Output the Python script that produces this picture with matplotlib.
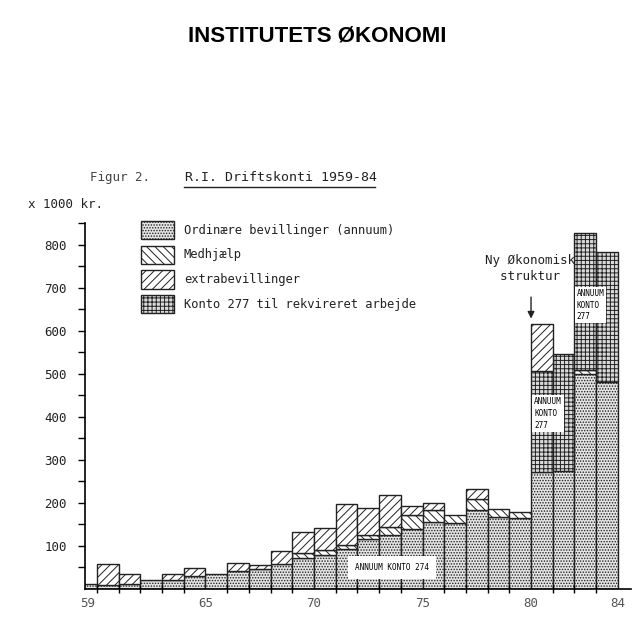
import numpy as np
import matplotlib.pyplot as plt

# R.I. Driftskonti 1959-84, values in 1000 kr.
years = np.arange(59, 84)
annuum = [10, 8, 10, 20, 20, 30, 34, 40, 45, 57, 71, 78, 92,
          115, 125, 140, 156, 152, 183, 167, 164, 272, 275, 500, 480]
medhjaelp = [0, 0, 0, 0, 0, 0, 0, 0, 0, 0, 11, 12, 10,
             10, 19, 31, 27, 19, 25, 18, 15, 0, 0, 8, 0]
konto277 = [0] * 21 + [235, 272, 320, 304]
extra = [0, 49, 24, 0, 14, 18, 0, 19, 9, 31, 51, 52, 95,
         63, 74, 21, 17, 0, 24, 0, 0, 108, 0, 0, 0]

legend_labels = ["Ordinære bevillinger (annuum)", "Medhjælp",
                 "extrabevillinger", "Konto 277 til rekvireret arbejde"]
ytick_vals = [100, 200, 300, 400, 500, 600, 700, 800]
xtick_vals = [59.55, 65, 70, 75, 80, 84]
xtick_labels = ["59", "65", "70", "75", "80", "84"]

mono = "DejaVu Sans Mono"
ink = "#222222"
plt.rcParams["hatch.linewidth"] = 0.7
plt.rcParams["hatch.color"] = ink

fig = plt.figure(figsize=(6.34, 6.17), dpi=100)
ax = fig.add_axes([85 / 634, 0.0459, 0.861, 0.592])

series = [annuum, medhjaelp, konto277, extra]
hatches = ["......", "\\\\\\\\", "++++", "////"]
faces = ["#e4e4e4", "white", "#dadada", "white"]
bottom = np.zeros(len(years))
for vals, h, fc in zip(series, hatches, faces):
    vals = np.array(vals, dtype=float)
    mask = vals > 0
    ax.bar(years[mask], vals[mask], width=1, align="edge", bottom=bottom[mask],
           facecolor=fc, edgecolor=ink, hatch=h, linewidth=1.0)
    bottom += vals

ax.set_xlim(59.45, 84.6)
ax.set_ylim(0, 850)
for s in ["top", "right"]:
    ax.spines[s].set_visible(False)
ax.spines["left"].set_linewidth(1.2)
ax.spines["bottom"].set_linewidth(1.2)

ax.set_yticks(ytick_vals)
ax.set_yticklabels([str(v) for v in ytick_vals], family=mono, fontsize=9, color=ink)
ax.set_yticks(np.arange(50, 851, 100), minor=True)
ax.tick_params(axis="y", which="both", direction="out", length=5, width=1, pad=8)

ax.set_xticks(xtick_vals)
ax.set_xticklabels(xtick_labels, family=mono, fontsize=9, color="#555555")
ax.set_xticks(np.arange(60, 85), minor=True)
ax.tick_params(axis="x", which="major", length=0, pad=6)
ax.tick_params(axis="x", which="minor", direction="inout", length=6, width=1)

# labels inside bars
box = dict(facecolor="white", edgecolor="none", pad=1.5)
ax.text(73.6, 50, "ANNUUM KONTO 274", family=mono, fontsize=5.5,
        ha="center", va="center", bbox=dict(facecolor="white", edgecolor="none", pad=5))
ax.text(80.15, 408, "ANNUUM\nKONTO\n277", family=mono, fontsize=5.5,
        ha="left", va="center", linespacing=1.4, bbox=box)
ax.text(82.1, 660, "ANNUUM\nKONTO\n277", family=mono, fontsize=5.5,
        ha="left", va="center", linespacing=1.4, bbox=box)

# new structure annotation
ax.annotate("", xy=(80.0, 622), xytext=(80.0, 685),
            arrowprops=dict(arrowstyle="-|>", color=ink, lw=1, mutation_scale=10))
fig.text(0.765, 0.565, "Ny Økonomisk\n  struktur", family=mono, fontsize=9,
         ha="left", va="center", color=ink, linespacing=1.3)

# legend patches drawn in figure coords
leg_y = [0.627, 0.587, 0.547, 0.507]
leg_hatch = ["......", "\\\\\\\\", "////", "++++"]
leg_face = ["#e4e4e4", "white", "white", "#dadada"]
for y, h, fc, lab in zip(leg_y, leg_hatch, leg_face, legend_labels):
    p = plt.Rectangle((0.222, y - 0.015), 0.053, 0.03, transform=fig.transFigure,
                      facecolor=fc, edgecolor=ink, hatch=h, linewidth=1)
    fig.patches.append(p)
    fig.text(0.29, y, lab, family=mono, fontsize=8.7, ha="left", va="center", color=ink)

fig.text(0.5, 0.942, "INSTITUTETS ØKONOMI", family="Liberation Sans",
         fontweight="bold", fontsize=16, ha="center", va="center")
fig.text(0.142, 0.712, "Figur 2.", family=mono, fontsize=9, ha="left",
         va="center", color="#444444")
fig.text(0.292, 0.712, "R.I. Driftskonti 1959-84", family=mono, fontsize=9.5,
         ha="left", va="center", color=ink)
fig.add_artist(plt.Line2D([0.291, 0.592], [0.697, 0.697], transform=fig.transFigure,
                          color=ink, lw=1))
fig.text(0.044, 0.668, "x 1000 kr.", family=mono, fontsize=9, ha="left",
         va="center", color=ink)

fig.savefig("out.png", dpi=100)
